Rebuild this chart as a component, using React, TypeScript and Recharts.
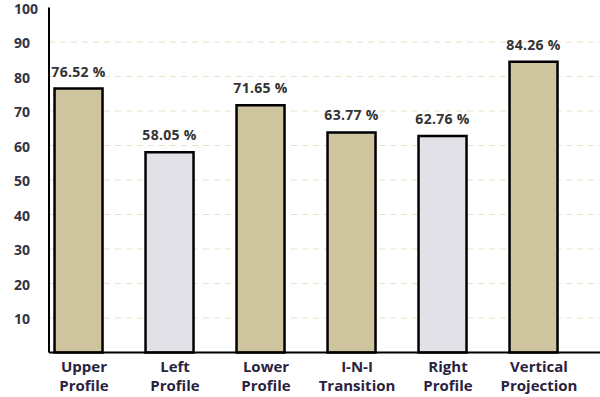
import React from "react";
import { BarChart, Bar, XAxis, YAxis, CartesianGrid, Cell, LabelList } from "recharts";

// recognition rate per projection
const views = [
  "Upper Profile",
  "Left Profile",
  "Lower Profile",
  "I-N-I Transition",
  "Right Profile",
  "Vertical Projection",
];
const rates = [76.52, 58.05, 71.65, 63.77, 62.76, 84.26];
const lateralViews = ["Left Profile", "Right Profile"];
const yTicks = [10, 20, 30, 40, 50, 60, 70, 80, 90, 100];
const gridValues = [10, 20, 30, 40, 50, 60, 70, 80, 90];

const data = views.map((name, i) => ({ name, pos: i, rate: rates[i] }));

const TAN = "#cec49d";
const LILAC = "#e3e1e8";
const FONT = "'Open Sans', sans-serif";

function ViewTick({ x, y, payload }: any) {
  const name = views[payload.value] ?? "";
  const cut = name.indexOf(" ");
  const first = name.slice(0, cut);
  const second = name.slice(cut + 1);
  return (
    <text x={x + 5} y={y} textAnchor="middle" fill="#2a2340" fontSize={15} fontWeight={700} fontFamily={FONT}>
      <tspan x={x + 5} dy={11}>{first}</tspan>
      <tspan x={x + 5} dy={19}>{second}</tspan>
    </text>
  );
}

function ValueTick({ y, payload }: any) {
  return (
    <text x={14} y={y} dy={6} textAnchor="start" fill="#33333f" fontSize={14} fontWeight={700} fontFamily={FONT}>
      {payload.value}
    </text>
  );
}

function RateLabel({ x, y, width, value }: any) {
  return (
    <text
      x={x + width / 2}
      y={y - 12}
      textAnchor="middle"
      fill="#333"
      fontSize={14}
      fontWeight={700}
      fontFamily={FONT}
      letterSpacing={0.3}
    >
      {`${Number(value).toFixed(2)} %`}
    </text>
  );
}

export default function App() {
  return (
    <div style={{ position: "absolute", left: 0, top: 0, background: "#fff" }}>
      <BarChart
        width={600}
        height={397}
        data={data}
        margin={{ top: 7.5, right: 0, left: 0, bottom: 0.5 }}
      >
        <CartesianGrid
          vertical={false}
          horizontalValues={gridValues}
          stroke="#e6e0c8"
          strokeDasharray="6 5"
        />
        <XAxis
          type="number"
          dataKey="pos"
          domain={[-0.33, 5.725]}
          ticks={[0, 1, 2, 3, 4, 5]}
          allowDataOverflow
          height={44}
          axisLine={{ stroke: "#000", strokeWidth: 2 }}
          tickLine={false}
          tick={<ViewTick />}
          interval={0}
        />
        <YAxis
          domain={[0, 100]}
          ticks={yTicks}
          width={49}
          axisLine={{ stroke: "#000", strokeWidth: 2 }}
          tickLine={false}
          tick={<ValueTick />}
          interval={0}
        />
        <Bar dataKey="rate" barSize={48} stroke="#000" strokeWidth={2.5} isAnimationActive={false}>
          {data.map((d) => (
            <Cell key={d.name} fill={lateralViews.includes(d.name) ? LILAC : TAN} />
          ))}
          <LabelList dataKey="rate" content={<RateLabel />} />
        </Bar>
      </BarChart>
    </div>
  );
}
